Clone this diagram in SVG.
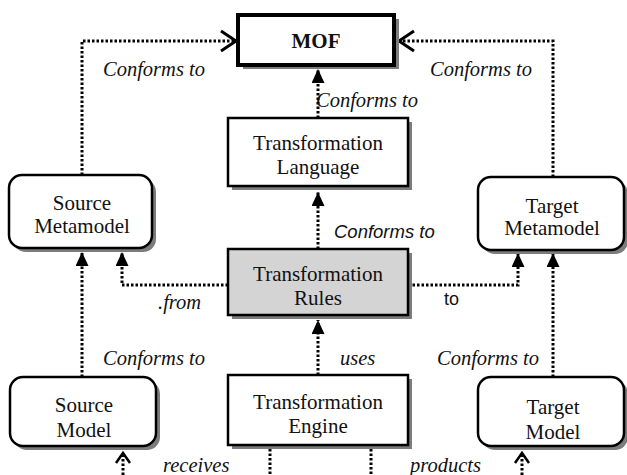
<svg xmlns="http://www.w3.org/2000/svg" width="627" height="475" viewBox="0 0 627 475">
  <style>
    .bg { fill: #ffffff; }
    .shadow { fill: #7c7c7c; }
    .box { fill: #ffffff; stroke: #000000; stroke-width: 2.5; }
    .box.grey { fill: #d4d4d4; }
    .box.heavy { stroke-width: 4; }
    .name { font-size: 21px; fill: #111111; text-anchor: middle; }
    .name.bold { font-weight: bold; font-size: 21px; }
    .conn { fill: none; stroke: #000000; stroke-width: 3; stroke-dasharray: 2.5 2; }
    .lbl { font-size: 20.5px; font-style: italic; fill: #111111; }
    .lbl.sans { font-size: 18.5px; }
    .lbl.plain { font-size: 18px; font-style: normal; }
  </style>
  <defs>
    <marker id="solid" markerUnits="userSpaceOnUse" viewBox="0 0 14 13" markerWidth="14" markerHeight="13" refX="14" refY="6.5" orient="auto">
      <path d="M0,0 L14,6.5 L0,13 Z" fill="#000000"/>
    </marker>
    <marker id="open" markerUnits="userSpaceOnUse" viewBox="-2 -2 20 24" markerWidth="20" markerHeight="24" refX="15" refY="10" orient="auto" style="overflow:visible">
      <path d="M0,0 L15,10 L0,20" fill="none" stroke="#000000" stroke-width="3"/>
    </marker>
    <marker id="openSmall" markerUnits="userSpaceOnUse" viewBox="-2 -2 14 18" markerWidth="14" markerHeight="18" refX="10" refY="7" orient="auto" style="overflow:visible">
      <path d="M0,0 L10,7 L0,14" fill="none" stroke="#000000" stroke-width="2.5"/>
    </marker>
  </defs>

  <rect class="bg" x="0" y="0" width="627" height="475"/>

  <!-- connectors and their labels -->
  <g id="connectors">
    <path class="conn" d="M82,175 V41 H236" marker-end="url(#open)"/>
    <path class="conn" d="M553,177 V41 H399" marker-end="url(#open)"/>
    <path class="conn" d="M318,118 V69" marker-end="url(#solid)"/>
    <path class="conn" d="M318,249 V192" marker-end="url(#solid)"/>
    <path class="conn" d="M228,285 H122 V252" marker-end="url(#solid)"/>
    <path class="conn" d="M408,285 H518 V253" marker-end="url(#solid)"/>
    <path class="conn" d="M82,377 V252" marker-end="url(#solid)"/>
    <path class="conn" d="M553,377 V253" marker-end="url(#solid)"/>
    <path class="conn" d="M318,375 V320" marker-end="url(#solid)"/>
    <path class="conn" d="M123,475 V453" marker-end="url(#openSmall)"/>
    <path class="conn" d="M522,475 V453" marker-end="url(#openSmall)"/>
    <path class="conn" d="M270,449 V475"/>
    <path class="conn" d="M371,449 V475"/>

    <g font-family="Liberation Serif, DejaVu Serif, serif">
      <text class="lbl" x="103" y="76">Conforms to</text>
      <text class="lbl" x="430" y="76">Conforms to</text>
      <text class="lbl" x="316" y="107">Conforms to</text>
      <text class="lbl" x="158" y="309">.from</text>
      <text class="lbl" x="103" y="365">Conforms to</text>
      <text class="lbl" x="340" y="365">uses</text>
      <text class="lbl" x="437" y="365">Conforms to</text>
      <text class="lbl" x="163" y="472">receives</text>
      <text class="lbl" x="410" y="472">products</text>
    </g>
    <g font-family="Liberation Sans, DejaVu Sans, sans-serif">
      <text class="lbl sans" x="334" y="238">Conforms to</text>
      <text class="lbl plain" x="444" y="305">to</text>
    </g>
  </g>

  <!-- nodes -->
  <g font-family="Liberation Serif, DejaVu Serif, serif">
    <g id="mof">
      <rect class="shadow" x="243" y="19" width="156" height="50"/>
      <rect class="box heavy" x="238" y="15" width="156" height="50"/>
      <text class="name bold" x="316" y="48">MOF</text>
    </g>

    <g id="transformation-language">
      <rect class="shadow" x="232" y="122" width="180" height="68"/>
      <rect class="box" x="228" y="118" width="180" height="68"/>
      <text class="name" x="318" y="150">Transformation</text>
      <text class="name" x="318" y="174">Language</text>
    </g>

    <g id="source-metamodel">
      <rect class="shadow" x="13" y="179" width="143" height="73" rx="13"/>
      <rect class="box" x="9" y="175" width="143" height="73" rx="13"/>
      <text class="name" x="82" y="210">Source</text>
      <text class="name" x="82" y="233">Metamodel</text>
    </g>

    <g id="target-metamodel">
      <rect class="shadow" x="482" y="181" width="146" height="73" rx="13"/>
      <rect class="box" x="478" y="177" width="146" height="73" rx="13"/>
      <text class="name" x="552" y="213">Target</text>
      <text class="name" x="552" y="235">Metamodel</text>
    </g>

    <g id="transformation-rules">
      <rect class="shadow" x="232" y="253" width="180" height="66"/>
      <rect class="box grey" x="228" y="249" width="180" height="66"/>
      <text class="name" x="318" y="281">Transformation</text>
      <text class="name" x="318" y="305">Rules</text>
    </g>

    <g id="source-model">
      <rect class="shadow" x="14" y="381" width="146" height="69" rx="13"/>
      <rect class="box" x="10" y="377" width="146" height="69" rx="13"/>
      <text class="name" x="84" y="412">Source</text>
      <text class="name" x="84" y="437">Model</text>
    </g>

    <g id="transformation-engine">
      <rect class="shadow" x="232" y="379" width="180" height="70"/>
      <rect class="box" x="228" y="375" width="180" height="70"/>
      <text class="name" x="318" y="409">Transformation</text>
      <text class="name" x="318" y="433">Engine</text>
    </g>

    <g id="target-model">
      <rect class="shadow" x="482" y="381" width="146" height="69" rx="13"/>
      <rect class="box" x="478" y="377" width="146" height="69" rx="13"/>
      <text class="name" x="553" y="414">Target</text>
      <text class="name" x="553" y="439">Model</text>
    </g>
  </g>
</svg>
